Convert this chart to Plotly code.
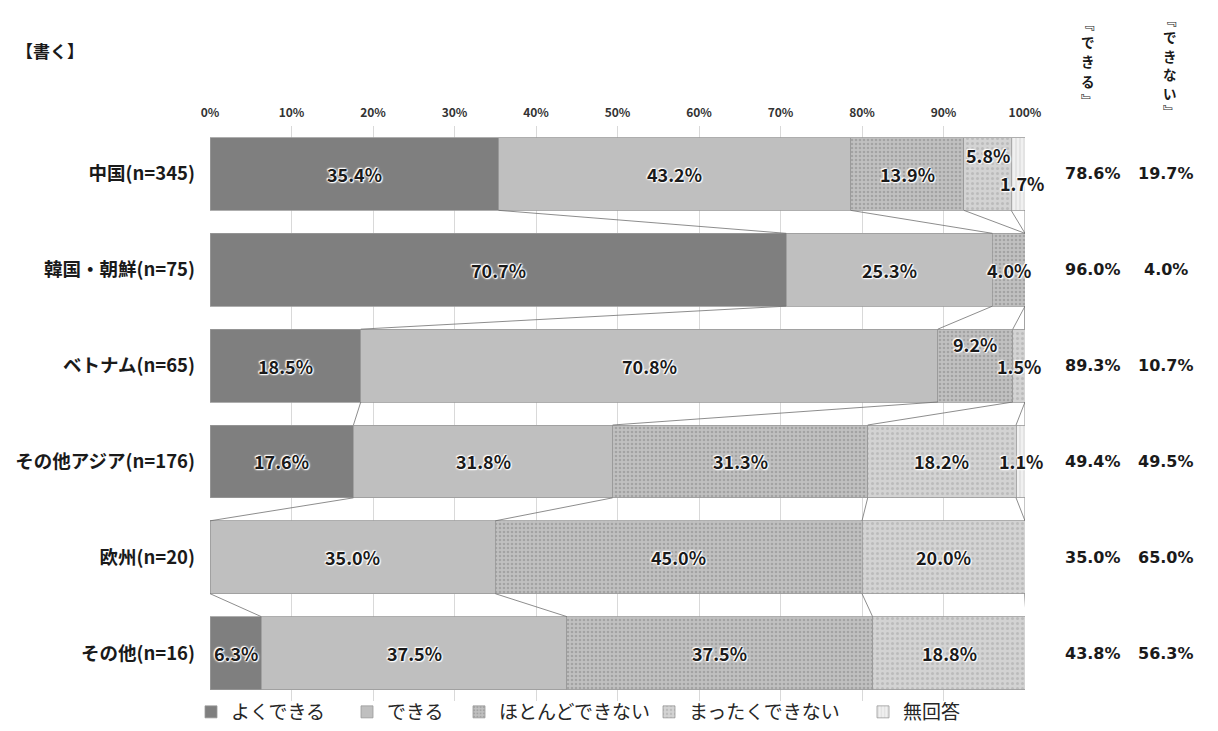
import plotly.graph_objects as go

categories = ["中国(n=345)", "韓国・朝鮮(n=75)", "ベトナム(n=65)", "その他アジア(n=176)", "欧州(n=20)", "その他(n=16)"]
series_names = ["よくできる", "できる", "ほとんどできない", "まったくできない", "無回答"]
yoku = [35.4, 70.7, 18.5, 17.6, 0.0, 6.3]
dekiru = [43.2, 25.3, 70.8, 31.8, 35.0, 37.5]
hotondo = [13.9, 4.0, 9.2, 31.3, 45.0, 37.5]
mattaku = [5.8, 0.0, 1.5, 18.2, 20.0, 18.8]
mukaitou = [1.7, 0.0, 0.0, 1.1, 0.0, 0.0]
can_total = [78.6, 96.0, 89.3, 49.4, 35.0, 43.8]
cannot_total = [19.7, 4.0, 10.7, 49.5, 65.0, 56.3]
total_headers = ["﹃できる﹄", "﹃できない﹄"]
tick_vals = [0, 10, 20, 30, 40, 50, 60, 70, 80, 90, 100]
tick_text = ["0%", "10%", "20%", "30%", "40%", "50%", "60%", "70%", "80%", "90%", "100%"]

series_values = [yoku, dekiru, hotondo, mattaku, mukaitou]

OFF = 8  # page body margin
W, H = 1218 - 2 * OFF, 731 - OFF
FONT = "Noto Sans CJK JP"
NUMFONT = "DejaVu Sans"
ys = list(range(len(categories)))
BAR_W = 0.76


def px(x):
    return (x - OFF) / W


def py(y):
    return 1 - (y - OFF) / H


styles = [
    dict(color="#7f7f7f", pattern=None),
    dict(color="#bfbfbf", pattern=None),
    dict(color="#b3b3b3", pattern=dict(shape=".", fgcolor="#858585", bgcolor="#c0c0c0", size=4, solidity=0.35)),
    dict(color="#cccccc", pattern=dict(shape=".", fgcolor="#a3a3a3", bgcolor="#d3d3d3", size=5, solidity=0.3)),
    dict(color="#ececec", pattern=dict(shape="|", fgcolor="#c4c4c4", bgcolor="#f0f0f0", size=4, solidity=0.3)),
]
legend_left = [191, 347, 459, 649, 863]  # screen px of each legend box

fig = go.Figure()
for idx, (name, vals, st) in enumerate(zip(series_names, series_values, styles)):
    marker = dict(color=st["color"], line=dict(color="#9a9a9a", width=0.8))
    if st["pattern"]:
        marker["pattern"] = st["pattern"]
    fig.add_trace(go.Bar(
        y=ys, x=vals, name=name, orientation="h", width=BAR_W,
        marker=marker, hoverinfo="skip",
        legend="legend" if idx == 0 else f"legend{idx + 1}",
    ))

# cumulative ends for series lines
cums = []
for i in ys:
    c, row = 0.0, []
    for vals in series_values:
        c += vals[i]
        row.append(c)
    cums.append(row)

lx, ly = [], []
half = BAR_W / 2
for i in range(len(categories) - 1):
    for k in range(len(series_values)):
        lx += [cums[i][k], cums[i + 1][k], None]
        ly += [i + half, i + 1 - half, None]
fig.add_trace(go.Scatter(x=lx, y=ly, mode="lines", line=dict(color="#707070", width=0.8),
                         showlegend=False, hoverinfo="skip"))

shadow = "0px 0px 2px white, 0px 0px 2px white, 0px 0px 3px white, 1px 1px 1px white, -1px -1px 1px white"
label_shift = {(0, 3): (0, 19), (0, 4): (4, -9), (2, 2): (0, 22)}

annotations = []
for i in ys:
    start = 0.0
    for k, vals in enumerate(series_values):
        v = vals[i]
        if v > 0:
            xs, yshift = label_shift.get((i, k), (0, 0))
            annotations.append(dict(
                x=start + v / 2, y=i, xref="x", yref="y", text=f"<b>{v:.1f}%</b>",
                showarrow=False, xshift=xs, yshift=yshift,
                font=dict(family=FONT, size=18, color="#1a1a1a", shadow=shadow),
            ))
        start += v

# right side totals: aligned with bar rows through the y axis
for i in ys:
    annotations.append(dict(x=px(1093), y=i, xref="paper", yref="y", xanchor="center",
                            text=f"<b>{can_total[i]:.1f}%</b>", showarrow=False,
                            font=dict(family=NUMFONT, size=16, color="#1a1a1a")))
    annotations.append(dict(x=px(1166), y=i, xref="paper", yref="y", xanchor="center",
                            text=f"<b>{cannot_total[i]:.1f}%</b>", showarrow=False,
                            font=dict(family=NUMFONT, size=16, color="#1a1a1a")))

# vertical column headers, one glyph per line
header_pos = [(1088, 23, 19.2), (1170, 19, 18.4)]  # (x center, y of first glyph, step) in screen px
for text, (hx, hy, step) in zip(total_headers, header_pos):
    for j, ch in enumerate(text):
        annotations.append(dict(x=px(hx), y=py(hy + j * step), xref="paper", yref="paper",
                                xanchor="center", yanchor="middle", text=f"<b>{ch}</b>",
                                showarrow=False, font=dict(family=FONT, size=13.5, color="#1a1a1a")))

annotations.append(dict(x=px(14), y=py(50), xref="paper", yref="paper", xanchor="left", yanchor="middle",
                        text="<b>【書く】</b>", showarrow=False,
                        font=dict(family=FONT, size=17, color="#1a1a1a")))

legend_common = dict(orientation="h", y=0, xanchor="left", yanchor="bottom",
                     font=dict(family=FONT, size=19, color="#262626"),
                     itemwidth=30, bgcolor="rgba(0,0,0,0)")
layout_legends = {}
for idx, left in enumerate(legend_left):
    key = "legend" if idx == 0 else f"legend{idx + 1}"
    layout_legends[key] = dict(legend_common, x=px(left))

fig.update_layout(
    barmode="stack",
    width=W, height=H,
    margin=dict(l=0, r=0, t=0, b=0),
    plot_bgcolor="white", paper_bgcolor="white",
    font=dict(family=FONT, color="#1a1a1a"),
    annotations=annotations,
    showlegend=True,
    **layout_legends,
)
fig.update_xaxes(domain=[px(210), px(1025)], range=[0, 100], side="top", tickvals=tick_vals,
                 ticktext=[f"<b>{t}</b>" for t in tick_text],
                 tickfont=dict(family=FONT, size=12, color="#333333"),
                 showgrid=True, gridcolor="#d9d9d9", gridwidth=1, zeroline=False, showline=False,
                 ticks="", ticklabelstandoff=6, fixedrange=True, automargin=False)
fig.update_yaxes(domain=[py(701), py(126)], range=[5.5, -0.5], tickvals=ys,
                 ticktext=[f"<b>{c}</b>" for c in categories],
                 tickfont=dict(family=FONT, size=18.5, color="#1a1a1a"),
                 showgrid=False, zeroline=False, showline=False, ticks="", ticklabelstandoff=14,
                 fixedrange=True, automargin=False)

fig.write_html("out.html")
